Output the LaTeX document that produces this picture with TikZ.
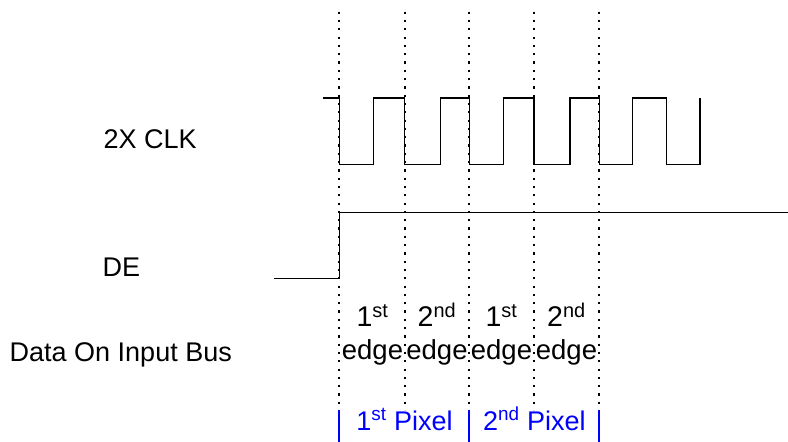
\documentclass[tikz,border=0pt]{standalone}
\usepackage{fontspec}
\setmainfont{Liberation Sans}
\begin{document}
\begin{tikzpicture}[x=1pt,y=-1pt,
  wave/.style={line width=1.5pt,black,line join=miter},
  guide/.style={line width=2.2pt,black,line cap=butt,dash pattern=on 2.2pt off 6.1pt},
  pixbar/.style={line width=1.7pt,draw=blue},
  lbl/.style={inner sep=0pt,font=\fontsize{27}{30}\selectfont},
  edgetxt/.style={inner sep=0pt,font=\fontsize{27.5}{30}\selectfont,anchor=base},
  ordtxt/.style={inner sep=0pt,font=\fontsize{28.5}{30}\selectfont,anchor=base},
  pix/.style={inner sep=0pt,font=\fontsize{27}{30}\selectfont,text=blue,anchor=base}]
\useasboundingbox (0,0) rectangle (788,442);
% guide lines
\foreach \n/\x in {a/339.3,b/404.7,c/469.3,d/534,e/599.3}{
  \coordinate (t\n) at (\x,11.6);
  \coordinate (u\n) at (\x,410);
  \draw[guide] (t\n) -- (u\n);
}
% labels
\node[lbl,anchor=base west] (clk) at (103.5,148.3) {2X CLK};
\node[lbl,anchor=base west] (de) at (102.5,276.7) {DE};
\node[lbl,anchor=base west] (bus) at (9.5,361.7) {Data On Input Bus};
% clock
\coordinate (c0) at (322.7,98);
\draw[wave] (c0) -- (339.3,98) -- (339.3,164.7) -- (373.3,164.7) -- (373.3,98)
  -- (404.7,98) -- (404.7,164.7) -- (440.7,164.7) -- (440.7,98)
  -- (469.3,98) -- (469.3,164.7) -- (503.3,164.7) -- (503.3,98)
  -- (534,98) -- (534,164.7) -- (570,164.7) -- (570,98)
  -- (599.3,98) -- (599.3,164.7) -- (632.7,164.7) -- (632.7,98)
  -- (666.7,98) -- (666.7,164.7) -- (700,164.7) -- (700,98);
% DE
\coordinate (d0) at (274,278.3);
\coordinate (d1) at (788,212.3);
\draw[wave] (d0) -- (339.3,278.3) -- (339.3,212.3) -- (d1);
% edge labels
\node[ordtxt] (o1) at (372.5,326.7) {1\textsuperscript{st}};
\node[ordtxt] (o2) at (437,326.7) {2\textsuperscript{nd}};
\node[ordtxt] (o3) at (501.5,326.7) {1\textsuperscript{st}};
\node[ordtxt] (o4) at (566.5,326.7) {2\textsuperscript{nd}};
\node[edgetxt] (e1) at (372.5,359.5) {edge};
\node[edgetxt] (e2) at (437,359.5) {edge};
\node[edgetxt] (e3) at (501.5,359.5) {edge};
\node[edgetxt] (e4) at (566.5,359.5) {edge};
% pixel bars
\foreach \n/\x in {p/339.3,q/469.3,r/599.3}{
  \coordinate (bt\n) at (\x,410);
  \coordinate (bb\n) at (\x,442);
  \draw[pixbar] (bt\n) -- (bb\n);
}
\node[pix] (px1) at (404.5,430) {1\textsuperscript{st} Pixel};
\node[pix] (px2) at (534.3,430) {2\textsuperscript{nd} Pixel};
\end{tikzpicture}
\end{document}
